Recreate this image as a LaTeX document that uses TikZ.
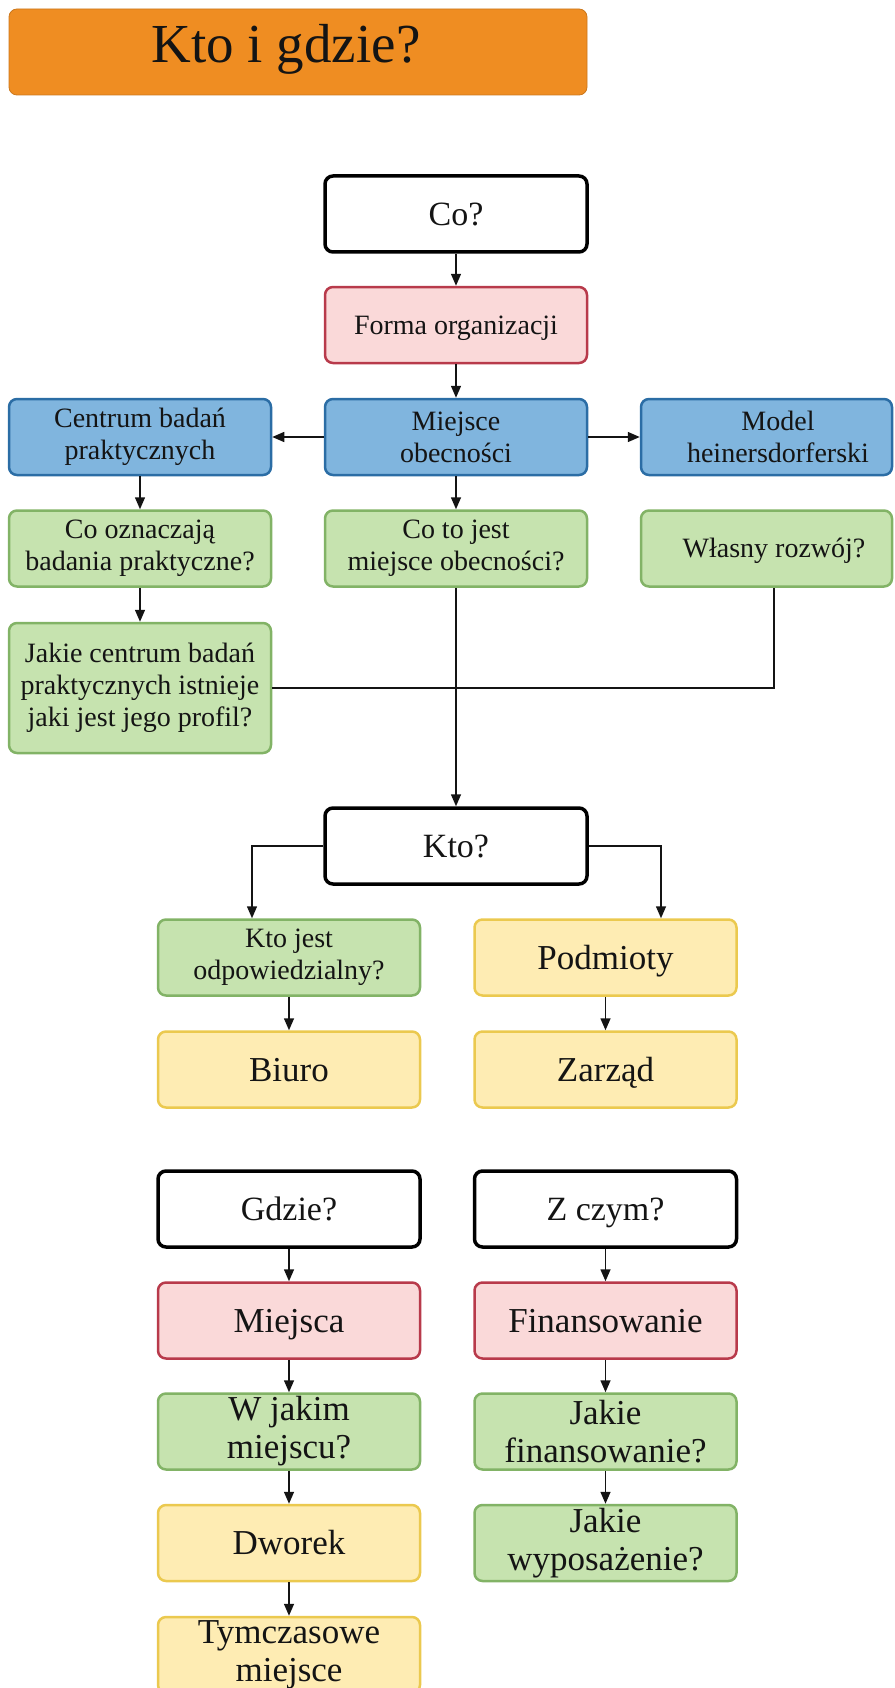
\documentclass[tikz,border=0pt]{standalone}
\usepackage{fontspec}
\setmainfont{Liberation Serif}
\usetikzlibrary{arrows.meta}

\definecolor{titleorange}{HTML}{EF8D22}
\definecolor{redfill}{HTML}{FAD9D9}
\definecolor{redline}{HTML}{B83A4B}
\definecolor{bluefill}{HTML}{80B5DE}
\definecolor{blueline}{HTML}{2B6DA5}
\definecolor{greenfill}{HTML}{C6E3AF}
\definecolor{greenline}{HTML}{82B366}
\definecolor{yellowfill}{HTML}{FEECB3}
\definecolor{yellowline}{HTML}{EBC94F}
\definecolor{inkblack}{HTML}{141414}

\newcommand{\smalltxt}{\fontsize{28}{32}\selectfont}
\newcommand{\bigtxt}{\fontsize{35}{38}\selectfont}

\begin{document}
\begin{tikzpicture}[x=1pt,y=-1pt,
  box/.style={rounded corners=8pt, line width=2.5pt, minimum width=262pt,
    minimum height=76pt, inner sep=0pt, align=center, text=inkblack},
  % single-line labels are centred on their capitals
  capsmall/.style={text height=18.5pt, text depth=0pt},
  capbig/.style={text height=23pt, text depth=0pt},
  titlebox/.style={box, fill=titleorange, draw=titleorange!85!black, line width=0.8pt},
  whitebox/.style={box, fill=white, draw=black, line width=3.5pt,
    font=\fontsize{34}{38}\selectfont, capbig},
  redbox/.style={box, fill=redfill, draw=redline},
  bluebox/.style={box, fill=bluefill, draw=blueline, font=\smalltxt},
  greenbox/.style={box, fill=greenfill, draw=greenline, font=\smalltxt},
  yellowbox/.style={box, fill=yellowfill, draw=yellowline, font=\bigtxt},
  plaintext/.style={inner sep=0pt, align=center, text=inkblack, font=\smalltxt},
  arr/.style={-{Triangle[length=12pt,width=10pt]}, line width=1.5pt, draw=inkblack},
  link/.style={line width=1.8pt, draw=inkblack},
]
\useasboundingbox (0,0) rectangle (894,1688);
\clip (0,0) rectangle (894,1688);

% heading
\node[titlebox, minimum width=578pt, minimum height=86pt] (title) at (298,52) {};
\node[plaintext, font=\fontsize{55}{60}\selectfont, text height=36pt, text depth=0pt]
  (titletext) at (286,45) {Kto i gdzie?};

% "Co?" branch
\node[whitebox] (co) at (456,214) {Co?};
\node[redbox, font=\smalltxt, capsmall] (forma) at (456,325) {Forma organizacji};

\node[bluebox] (centrum) at (140,437) {Centrum badań\\praktycznych};
\node[bluebox] (miejsce) at (456,437) {Miejsce\\obecności};
\node[bluebox, minimum width=251pt] (model) at (766.5,437) {};
\node[plaintext] (modeltext) at (778,437) {Model\\heinersdorferski};

\node[greenbox] (cooznacz) at (140,548.5) {Co oznaczają\\badania praktyczne?};
\node[greenbox] (cotojest) at (456,548.5) {Co to jest\\miejsce obecności?};
\node[greenbox, minimum width=251pt] (wlasny) at (766.5,548.5) {};
\node[plaintext, capsmall] (wlasnytext) at (774,548.5) {Własny rozwój?};

\node[greenbox, minimum height=130pt] (jakiecentrum) at (140,688)
  {Jakie centrum badań\\praktycznych istnieje\\jaki jest jego profil?};

\draw[arr] (co) -- (forma);
\draw[arr] (forma) -- (miejsce);
\draw[arr] (miejsce) -- (centrum);
\draw[arr] (miejsce) -- (model);
\draw[arr] (centrum) -- (cooznacz);
\draw[arr] (miejsce) -- (cotojest);
\draw[arr] (cooznacz) -- (jakiecentrum);

\coordinate (join) at (774,688);
\draw[link] (jakiecentrum.east) -- (join) -- (join |- wlasny.south);

% "Kto?" branch
\node[whitebox] (kto) at (456,846) {Kto?};
\draw[arr] (cotojest) -- (kto);

\node[greenbox] (ktojest) at (289,957.5) {Kto jest\\odpowiedzialny?};
\node[yellowbox, capbig] (podmioty) at (605.5,957.5) {Podmioty};
\node[yellowbox, capbig] (biuro) at (289,1069.5) {Biuro};
\node[yellowbox, capbig] (zarzad) at (605.5,1069.5) {Zarząd};

\coordinate (ktoL) at (252,846);
\coordinate (ktoR) at (661,846);
\draw[arr] (kto.west) -- (ktoL) -- (ktoL |- ktojest.north);
\draw[arr] (kto.east) -- (ktoR) -- (ktoR |- podmioty.north);
\draw[arr] (ktojest) -- (biuro);
\draw[arr] (podmioty) -- (zarzad);

% "Gdzie?" column
\node[whitebox] (gdzie) at (289,1209) {Gdzie?};
\node[redbox, font=\bigtxt, capbig] (miejsca) at (289,1320.5) {Miejsca};
\node[greenbox, font=\bigtxt] (wjakim) at (289,1431.5) {W jakim\\miejscu?};
\node[yellowbox, capbig] (dworek) at (289,1543) {Dworek};
\node[yellowbox] (tymczasowe) at (289,1655) {Tymczasowe\\miejsce};

\draw[arr] (gdzie) -- (miejsca);
\draw[arr] (miejsca) -- (wjakim);
\draw[arr] (wjakim) -- (dworek);
\draw[arr] (dworek) -- (tymczasowe);

% "Z czym?" column
\node[whitebox] (zczym) at (605.5,1209) {Z czym?};
\node[redbox, font=\bigtxt, capbig] (finans) at (605.5,1320.5) {Finansowanie};
\node[greenbox, font=\bigtxt] (jakiefin) at (605.5,1431.5) {Jakie\\finansowanie?};
\node[greenbox, font=\bigtxt] (jakiewyp) at (605.5,1543) {Jakie\\wyposażenie?};

\draw[arr] (zczym) -- (finans);
\draw[arr] (finans) -- (jakiefin);
\draw[arr] (jakiefin) -- (jakiewyp);
\end{tikzpicture}
\end{document}
